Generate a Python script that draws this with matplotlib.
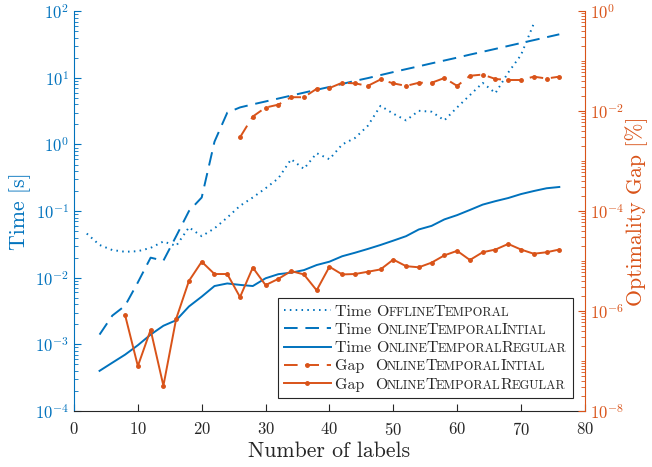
import numpy as np
import matplotlib
matplotlib.use('Agg')
import matplotlib.pyplot as plt
from matplotlib.ticker import LogLocator, FixedLocator, NullFormatter, LogFormatterSciNotation
from matplotlib.offsetbox import HPacker, TextArea

blue = '#0072BD'
orange = '#D95319'

plt.rcParams['font.family'] = 'serif'
plt.rcParams['font.serif'] = ['cmr10']
plt.rcParams['mathtext.fontset'] = 'cm'
plt.rcParams['axes.unicode_minus'] = False
plt.rcParams['axes.formatter.use_mathtext'] = True

# number of labels for each series
n_offline = np.arange(2, 73, 2)
n_online = np.arange(4, 77, 2)
n_gap_init = np.arange(26, 77, 2)
n_gap_reg = np.arange(8, 77, 2)

# time [s]
time_offline = [0.046, 0.031, 0.026, 0.0245, 0.025, 0.028, 0.035, 0.030, 0.057, 0.042,
                0.055, 0.08, 0.12, 0.16, 0.22, 0.31, 0.6, 0.43, 0.74, 0.6,
                1.0, 1.25, 1.9, 3.8, 2.9, 2.3, 3.2, 3.1, 2.3, 3.6,
                5.5, 8.4, 5.9, 12, 22, 65]
time_init = [0.0014, 0.0027, 0.0038, 0.0085, 0.02, 0.018, 0.042, 0.1, 0.16, 1.1,
             3.0, 3.6, 4.0, 4.42, 4.89, 5.41, 5.99, 6.62, 7.3, 8.1,
             9.0, 9.9, 11.0, 12.2, 13.5, 14.9, 16.5, 18.2, 20.1, 22.3,
             24.6, 27.2, 30.1, 33.3, 36.8, 40.7, 45]
time_reg = [0.0004, 0.00053, 0.0007, 0.00097, 0.0014, 0.0019, 0.0023, 0.0037, 0.0052, 0.0075,
            0.0082, 0.0078, 0.0075, 0.0098, 0.0113, 0.0119, 0.013, 0.0155, 0.0174, 0.021,
            0.0237, 0.027, 0.031, 0.036, 0.042, 0.053, 0.060, 0.075, 0.087, 0.104,
            0.125, 0.141, 0.157, 0.18, 0.20, 0.22, 0.23]

# optimality gap [%]
gap_init = [3e-3, 7.8e-3, 1.18e-2, 1.35e-2, 1.9e-2, 1.9e-2, 2.8e-2, 2.9e-2, 3.7e-2, 3.6e-2,
            3.2e-2, 4.3e-2, 3.6e-2, 3.2e-2, 3.7e-2, 3.7e-2, 4.6e-2, 3.2e-2, 5.1e-2, 5.4e-2,
            4.4e-2, 4.2e-2, 4.2e-2, 4.9e-2, 4.5e-2, 4.9e-2]
gap_reg = [8.3e-7, 7.9e-8, 4.2e-7, 3.2e-8, 7e-7, 4e-6, 9.7e-6, 5.5e-6, 5.5e-6, 1.9e-6,
           7.4e-6, 3.3e-6, 4.4e-6, 6.3e-6, 5.4e-6, 2.6e-6, 7.7e-6, 5.4e-6, 5.5e-6, 6.1e-6,
           6.8e-6, 1.07e-5, 7.9e-6, 7.5e-6, 9.3e-6, 1.3e-5, 1.6e-5, 1.05e-5, 1.5e-5, 1.7e-5,
           2.2e-5, 1.7e-5, 1.4e-5, 1.5e-5, 1.7e-5]

legend_names = [('Time', 'OfflineTemporal'),
                ('Time', 'OnlineTemporalIntial'),
                ('Time', 'OnlineTemporalRegular'),
                ('Gap ', 'OnlineTemporalIntial'),
                ('Gap ', 'OnlineTemporalRegular')]

fig = plt.figure(figsize=(6.52, 4.67), dpi=100)
ax = fig.add_axes([0.1135, 0.12, 0.7835, 0.856])
ax2 = ax.twinx()

lw = 1.4
l1, = ax.plot(n_offline, time_offline, color=blue, lw=lw, ls=(0, (0.8, 2.2)))
l2, = ax.plot(n_online, time_init, color=blue, lw=lw, dashes=(7, 4))
l3, = ax.plot(n_online, time_reg, color=blue, lw=lw)
l4, = ax2.plot(n_gap_init, gap_init, color=orange, lw=lw, dashes=(7, 4), marker='.', ms=5)
l5, = ax2.plot(n_gap_reg, gap_reg, color=orange, lw=lw, marker='.', ms=5)

ax.set_xlim(0, 80)
ax.set_yscale('log')
ax.set_ylim(1e-4, 1e2)
ax2.set_yscale('log')
ax2.set_ylim(1e-8, 1e0)

ax.set_xticks(np.arange(0, 81, 10))
ax.yaxis.set_major_locator(LogLocator(base=10, numticks=20))
ax.yaxis.set_minor_locator(LogLocator(base=10, subs=np.arange(2, 10), numticks=20))
ax.yaxis.set_minor_formatter(NullFormatter())
ax2.yaxis.set_major_locator(FixedLocator([1e-8, 1e-6, 1e-4, 1e-2, 1e0]))
ax2.yaxis.set_major_formatter(LogFormatterSciNotation())
ax2.yaxis.set_minor_locator(LogLocator(base=10, subs=np.arange(1, 10), numticks=20))
ax2.yaxis.set_minor_formatter(NullFormatter())

for a in (ax, ax2):
    a.spines['top'].set_visible(False)
ax2.spines['left'].set_visible(False)
ax2.spines['bottom'].set_visible(False)
ax.spines['right'].set_visible(False)
ax.spines['left'].set_color(blue)
ax2.spines['right'].set_color(orange)
ax.spines['bottom'].set_color('#262626')

ax.tick_params(axis='x', which='both', direction='in', length=5, colors='#262626',
               labelsize=12, top=False, pad=7)
ax.tick_params(axis='y', which='major', direction='in', length=5, colors=blue, labelsize=12)
ax.tick_params(axis='y', which='minor', direction='in', length=3, colors=blue)
ax2.tick_params(axis='y', which='major', direction='in', length=5, colors=orange, labelsize=12)
ax2.tick_params(axis='y', which='minor', direction='in', length=3, colors=orange)

ax.set_xlabel('Number of labels', fontsize=15.7, color='#262626', labelpad=3)
ax.set_ylabel('Time [s]', fontsize=15.7, color=blue, labelpad=3)
ax2.set_ylabel('Optimality Gap [%]', fontsize=15.7, color=orange, labelpad=1)

fsz = 11.5
leg = ax2.legend([l1, l2, l3, l4, l5], [p[0] for p in legend_names],
                 loc='lower right', bbox_to_anchor=(0.977, 0.0325), borderaxespad=0,
                 fontsize=fsz, handlelength=2.9, handletextpad=0.3, labelspacing=0.25,
                 borderpad=0.4, fancybox=False, framealpha=1, edgecolor='#262626')
leg.get_frame().set_linewidth(0.8)


def small_caps(word, size):
    # split into capital / lower runs, lower case drawn as smaller capitals
    parts = []
    for ch in word:
        big = ch.isupper()
        if parts and parts[-1][1] == big:
            parts[-1][0] += ch
        else:
            parts.append([ch, big])
    boxes = []
    for txt, big in parts:
        fs = size if big else size * 0.78
        boxes.append(TextArea(txt.upper(), textprops=dict(fontsize=fs, color='#262626')))
    return boxes


rows = leg._legend_handle_box.get_children()[0].get_children()
for row, (pre, name) in zip(rows, legend_names):
    pieces = [TextArea(pre + ' ', textprops=dict(fontsize=fsz, color='#262626'))]
    pieces += small_caps(name, fsz)
    box = HPacker(children=pieces, align='baseline', pad=0, sep=-0.4)
    box.set_figure(fig)
    row.get_children()[1] = box
for t in leg.get_texts():
    t.set_text('')
    t.set_visible(False)

fig.savefig('out.png', dpi=100)
